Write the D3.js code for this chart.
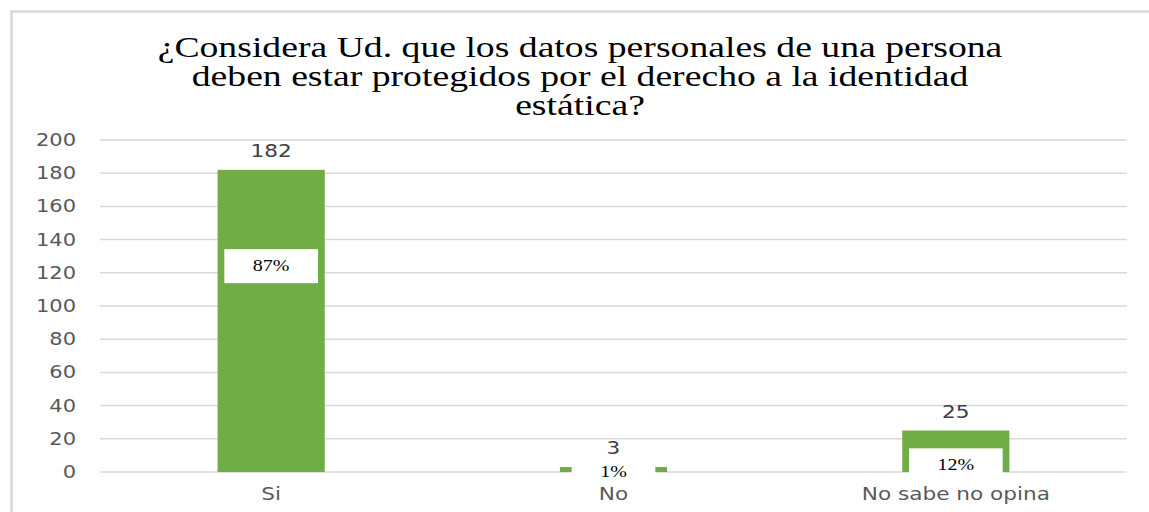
<!DOCTYPE html>
<html><head><meta charset="utf-8">
<script src="https://cdn.jsdelivr.net/npm/d3@7"></script>
<style>body{margin:0;background:#fff}svg{display:block}</style>
</head><body>
<svg id="c" width="1149" height="512"></svg>
<script>
const titleLines = ["¿Considera Ud. que los datos personales de una persona","deben estar protegidos por el derecho a la identidad","estática?"];
const categories = ["Si","No","No sabe no opina"];
const values = [182,3,25];
const percentLabels = ["87%","1%","12%"];
const percentAt = [124,0,4];
const yTicks = [0,20,40,60,80,100,120,140,160,180,200];

const svg = d3.select("#c");
const SX = 1.2;
const green = "#70ad47";
const x = d3.scaleBand().domain(categories).range([100,1127]).paddingInner(0.687).paddingOuter(0.3435);
const y = d3.scaleLinear().domain([0,200]).range([472,140]);

// frame
svg.append("line").attr("x1",10).attr("x2",1149).attr("y1",11.5).attr("y2",11.5).attr("stroke","#d9d9d9").attr("stroke-width",2.5);
svg.append("line").attr("x1",11.5).attr("x2",11.5).attr("y1",10).attr("y2",512).attr("stroke","#d9d9d9").attr("stroke-width",2.5);

function stext(g, tx, ty, str, sx){
  return g.append("text").attr("transform",`translate(${tx},${ty}) scale(${sx},1)`).text(str);
}

// title
const tg = svg.append("g").attr("font-family","'Liberation Serif', serif").attr("font-size",29).attr("fill","#000").attr("text-anchor","middle");
titleLines.forEach((t,i)=> stext(tg, 580, 57 + i*29, t, 1.3));

// grid
svg.append("g").selectAll("line").data(yTicks).join("line")
  .attr("x1",100).attr("x2",1127).attr("y1",d=>y(d)).attr("y2",d=>y(d))
  .attr("stroke","#d9d9d9").attr("stroke-width",1.5);

// y tick labels
const yl = svg.append("g").attr("font-family","'DejaVu Sans', sans-serif").attr("font-size",17.5).attr("fill","#595959").attr("text-anchor","end");
yTicks.forEach(v=> stext(yl, 76, y(v)+6, String(v), SX));

// bars
svg.append("g").selectAll("rect").data(values).join("rect")
  .attr("x",(d,i)=>x(categories[i])).attr("width",x.bandwidth())
  .attr("y",d=>y(d)).attr("height",d=>y(0)-y(d)).attr("fill",green);

// value labels
const vl = svg.append("g").attr("font-family","'DejaVu Sans', sans-serif").attr("font-size",18).attr("fill","#404040").attr("text-anchor","middle");
values.forEach((v,i)=> stext(vl, x(categories[i])+x.bandwidth()/2, y(v)-13, String(v), SX));

// percent labels with white boxes
const pg = svg.append("g");
values.forEach((v,i)=>{
  const cx = x(categories[i])+x.bandwidth()/2, cy = y(percentAt[i]);
  const box = pg.append("rect").attr("fill","#fff");
  const t = stext(pg, cx, cy+5, percentLabels[i], 1.25)
    .attr("font-family","'Liberation Serif', serif").attr("font-size",16).attr("fill","#000").attr("text-anchor","middle");
  const w = t.node().getBBox().width*1.25 + 57;
  box.attr("x",cx-w/2).attr("y",cy-17).attr("width",w).attr("height",34);
});

// category labels
const cl = svg.append("g").attr("font-family","'DejaVu Sans', sans-serif").attr("font-size",18).attr("fill","#595959").attr("text-anchor","middle");
categories.forEach(c=> stext(cl, x(c)+x.bandwidth()/2, 500, c, SX));
</script>
</body></html>
